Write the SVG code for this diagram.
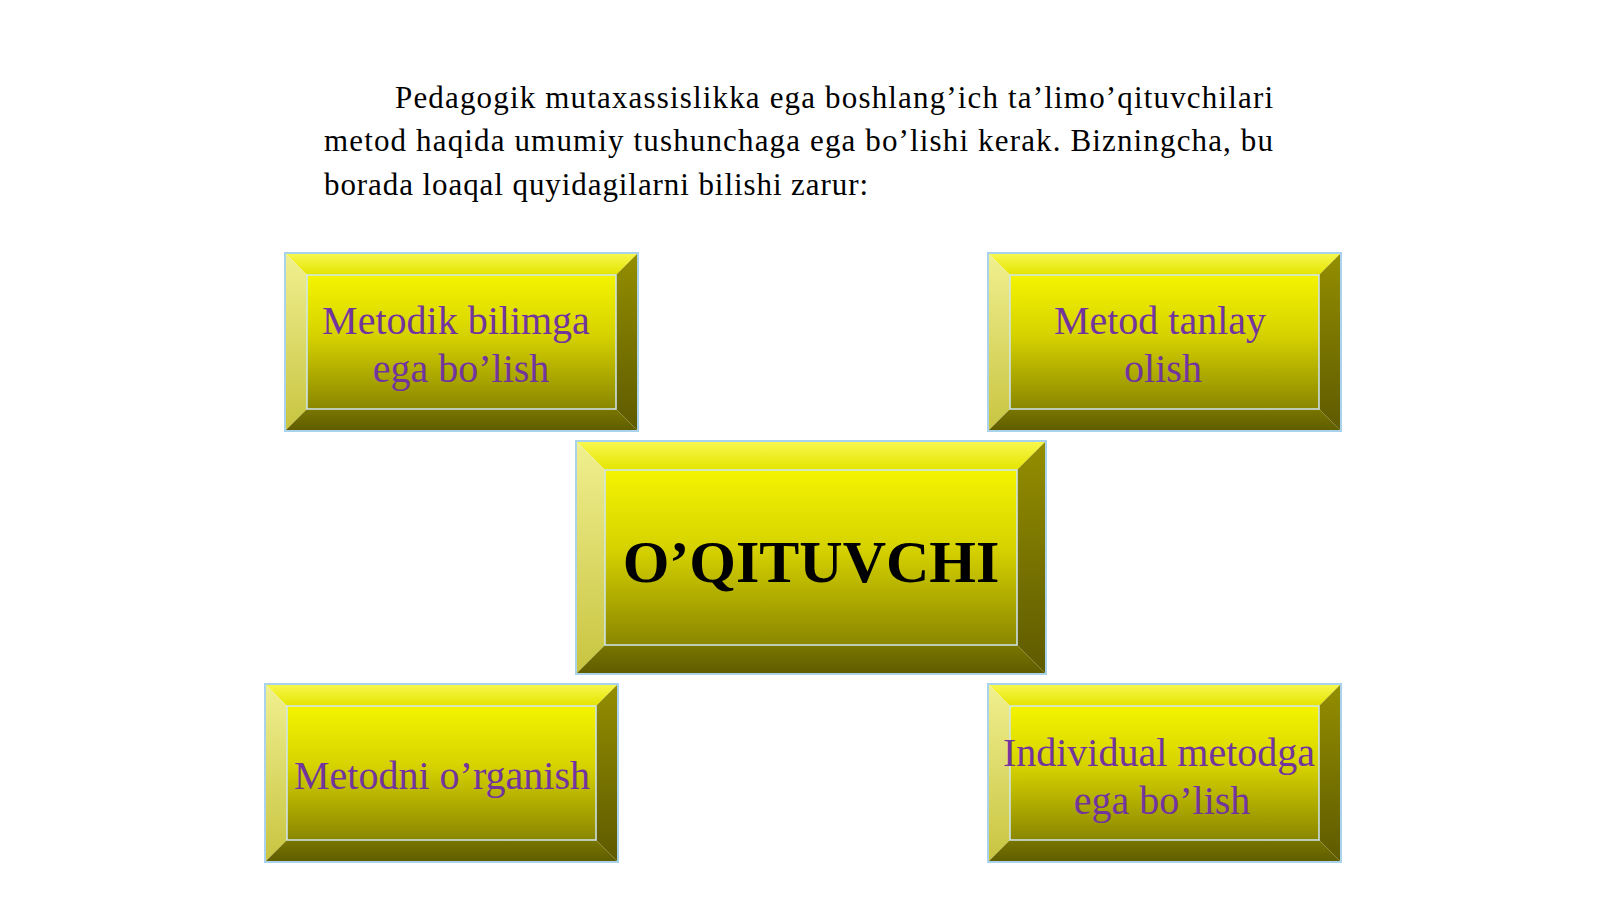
<svg xmlns="http://www.w3.org/2000/svg" width="1600" height="899" viewBox="0 0 1600 899">
<defs>
<linearGradient id="gFace" x1="0" y1="0" x2="0" y2="1">
<stop offset="0" stop-color="#f4f400"/><stop offset="0.45" stop-color="#d6d200"/><stop offset="1" stop-color="#8a8600"/>
</linearGradient>
<linearGradient id="gTop" x1="0" y1="0" x2="0" y2="1">
<stop offset="0" stop-color="#f8f850"/><stop offset="1" stop-color="#e4e400"/>
</linearGradient>
<linearGradient id="gLeft" x1="0" y1="0" x2="0" y2="1">
<stop offset="0" stop-color="#f0f090"/><stop offset="1" stop-color="#c8c440"/>
</linearGradient>
<linearGradient id="gRight" x1="0" y1="0" x2="0" y2="1">
<stop offset="0" stop-color="#948e00"/><stop offset="1" stop-color="#5e5a00"/>
</linearGradient>
<linearGradient id="gBottom" x1="0" y1="0" x2="0" y2="1">
<stop offset="0" stop-color="#7a7600"/><stop offset="1" stop-color="#5e5c00"/>
</linearGradient>
</defs>
<style>
.face{fill:url(#gFace)}
.top{fill:url(#gTop)}
.left{fill:url(#gLeft)}
.right{fill:url(#gRight)}
.bottom{fill:url(#gBottom)}
.edge{fill:none;stroke:#a9d2ec;stroke-width:2}
.bev{fill:none;stroke:#cfe6f2;stroke-width:1.5}
.lbl{font-family:"Liberation Serif","Times New Roman",serif;font-size:40px;fill:#72359e;text-anchor:middle}
.main{font-family:"Liberation Serif","Times New Roman",serif;font-size:60px;font-weight:bold;fill:#000;text-anchor:middle}
.para{font-family:"Liberation Serif","Times New Roman",serif;font-size:31px;fill:#000}
</style>
<rect width="1600" height="899" fill="#fff"/>
<g id="paragraph">
<text class="para" x="395" y="108" textLength="878" lengthAdjust="spacing">Pedagogik mutaxassislikka ega boshlang’ich ta’limo’qituvchilari</text>
<text class="para" x="324" y="151" textLength="949" lengthAdjust="spacing">metod haqida umumiy tushunchaga ega bo’lishi kerak. Bizningcha, bu</text>
<text class="para" x="324" y="195" textLength="544" lengthAdjust="spacing">borada loaqal quyidagilarni bilishi zarur:</text>
</g>
<g id="connectors"/>
<g id="node-metodik">
<polygon class="top" points="285,253 638,253 616,275 307,275"/>
<polygon class="left" points="285,253 307,275 307,409 285,431"/>
<polygon class="right" points="638,253 638,431 616,409 616,275"/>
<polygon class="bottom" points="285,431 307,409 616,409 638,431"/>
<rect class="face" x="307" y="275" width="309" height="134"/>
<rect class="bev" x="307" y="275" width="309" height="134"/>
<rect class="edge" x="285" y="253" width="353" height="178"/>
<text class="lbl" x="456" y="334">Metodik bilimga</text>
<text class="lbl" x="461" y="382">ega bo’lish</text>
</g>
<g id="node-tanlay">
<polygon class="top" points="988,253 1341,253 1319,275 1010,275"/>
<polygon class="left" points="988,253 1010,275 1010,409 988,431"/>
<polygon class="right" points="1341,253 1341,431 1319,409 1319,275"/>
<polygon class="bottom" points="988,431 1010,409 1319,409 1341,431"/>
<rect class="face" x="1010" y="275" width="309" height="134"/>
<rect class="bev" x="1010" y="275" width="309" height="134"/>
<rect class="edge" x="988" y="253" width="353" height="178"/>
<text class="lbl" x="1160" y="334">Metod tanlay</text>
<text class="lbl" x="1163" y="382">olish</text>
</g>
<g id="node-center">
<polygon class="top" points="576,441 1046,441 1017,470 605,470"/>
<polygon class="left" points="576,441 605,470 605,645 576,674"/>
<polygon class="right" points="1046,441 1046,674 1017,645 1017,470"/>
<polygon class="bottom" points="576,674 605,645 1017,645 1046,674"/>
<rect class="face" x="605" y="470" width="412" height="175"/>
<rect class="bev" x="605" y="470" width="412" height="175"/>
<rect class="edge" x="576" y="441" width="470" height="233"/>
<text class="main" x="811" y="582">O’QITUVCHI</text>
</g>
<g id="node-organish">
<polygon class="top" points="265,684 618,684 596,706 287,706"/>
<polygon class="left" points="265,684 287,706 287,840 265,862"/>
<polygon class="right" points="618,684 618,862 596,840 596,706"/>
<polygon class="bottom" points="265,862 287,840 596,840 618,862"/>
<rect class="face" x="287" y="706" width="309" height="134"/>
<rect class="bev" x="287" y="706" width="309" height="134"/>
<rect class="edge" x="265" y="684" width="353" height="178"/>
<text class="lbl" x="442" y="789">Metodni o’rganish</text>
</g>
<g id="node-individual">
<polygon class="top" points="988,684 1341,684 1319,706 1010,706"/>
<polygon class="left" points="988,684 1010,706 1010,840 988,862"/>
<polygon class="right" points="1341,684 1341,862 1319,840 1319,706"/>
<polygon class="bottom" points="988,862 1010,840 1319,840 1341,862"/>
<rect class="face" x="1010" y="706" width="309" height="134"/>
<rect class="bev" x="1010" y="706" width="309" height="134"/>
<rect class="edge" x="988" y="684" width="353" height="178"/>
<text class="lbl" x="1159" y="766">Individual metodga</text>
<text class="lbl" x="1162" y="814">ega bo’lish</text>
</g>
</svg>
